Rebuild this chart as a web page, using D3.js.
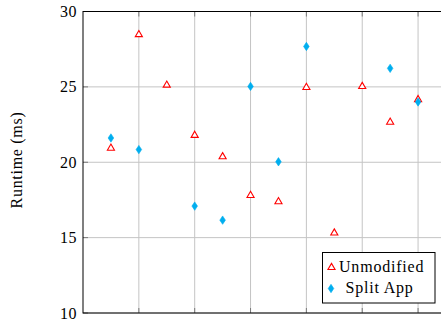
<!DOCTYPE html>
<html>
<head>
<meta charset="utf-8">
<script src="https://cdn.jsdelivr.net/npm/d3@7"></script>
<style>
  body { margin: 0; background: #fff; }
  svg { display: block; }
  text { font-family: "Liberation Serif", "DejaVu Serif", serif; fill: #000; }
</style>
</head>
<body>
<div id="chart"></div>
<script>
// run index along x, runtime in ms
var unmodX = [1, 2, 3, 4, 5, 6, 7, 8, 9, 10, 11, 12];
var unmodY = [20.97, 28.5, 25.15, 21.82, 20.4, 17.83, 17.42, 25.0, 15.34, 25.06, 22.69, 24.19];
var splitX = [1, 2, 4, 5, 6, 7, 8, 11, 12];
var splitY = [21.61, 20.84, 17.09, 16.16, 25.03, 20.03, 27.68, 26.23, 24.0];
var yTicks = [10, 15, 20, 25, 30];
var xTicks = [2, 4, 6, 8, 10, 12];
var seriesNames = ["Unmodified", "Split App"];

var width = 441, height = 322;
var margin = {top: 11.5, right: -5, bottom: 9, left: 83};
var w = width - margin.left - margin.right,
    h = height - margin.top - margin.bottom;

var svg = d3.select("#chart").append("svg")
    .attr("width", width)
    .attr("height", height);

var g = svg.append("g")
    .attr("transform", "translate(" + margin.left + "," + margin.top + ")");

var x = d3.scaleLinear().domain([0, 13]).range([0, w]);
var y = d3.scaleLinear().domain([10, 30]).range([h, 0]);

// grid
g.append("g").selectAll("line")
    .data(xTicks)
  .enter().append("line")
    .attr("x1", function(d) { return x(d); })
    .attr("x2", function(d) { return x(d); })
    .attr("y1", 0).attr("y2", h)
    .attr("stroke", "#c4c4c4").attr("stroke-width", 1);

g.append("g").selectAll("line")
    .data(yTicks)
  .enter().append("line")
    .attr("x1", 0).attr("x2", w)
    .attr("y1", function(d) { return y(d); })
    .attr("y2", function(d) { return y(d); })
    .attr("stroke", "#c4c4c4").attr("stroke-width", 1);

// inner ticks
var tickLen = 5;
var ticks = g.append("g").attr("stroke", "#7a7a7a").attr("stroke-width", 1);
xTicks.forEach(function(d) {
  ticks.append("line").attr("x1", x(d)).attr("x2", x(d)).attr("y1", h).attr("y2", h - tickLen);
  ticks.append("line").attr("x1", x(d)).attr("x2", x(d)).attr("y1", 0).attr("y2", tickLen);
});
yTicks.forEach(function(d) {
  ticks.append("line").attr("x1", 0).attr("x2", tickLen).attr("y1", y(d)).attr("y2", y(d));
  ticks.append("line").attr("x1", w).attr("x2", w - tickLen).attr("y1", y(d)).attr("y2", y(d));
});

// frame
g.append("rect")
    .attr("width", w).attr("height", h)
    .attr("fill", "none").attr("stroke", "#000").attr("stroke-width", 1);

// y tick labels
g.append("g").selectAll("text")
    .data(yTicks)
  .enter().append("text")
    .attr("x", -6)
    .attr("y", function(d) { return y(d); })
    .attr("dy", "0.35em")
    .attr("text-anchor", "end")
    .style("font-size", "16px")
    .style("letter-spacing", "0.5px")
    .text(function(d) { return d; });

// y label
svg.append("text")
    .attr("transform", "translate(21.5,160) rotate(-90)")
    .attr("text-anchor", "middle")
    .style("font-size", "16px")
    .style("letter-spacing", "0.7px")
    .text("Runtime (ms)");

var red = "#ff0000", cyan = "#00aeef";
var tri = d3.symbol().type(d3.symbolTriangle).size(22);

function diamond(cx, cy) {
  return "M" + cx + "," + (cy - 4.2) + "L" + (cx + 2.8) + "," + cy +
         "L" + cx + "," + (cy + 4.2) + "L" + (cx - 2.8) + "," + cy + "Z";
}

// unmodified
g.append("g").selectAll("path")
    .data(unmodX)
  .enter().append("path")
    .attr("d", tri)
    .attr("transform", function(d, i) { return "translate(" + x(d) + "," + (y(unmodY[i]) + 0.5) + ")"; })
    .attr("fill", "#fff")
    .attr("stroke", red)
    .attr("stroke-width", 1.1);

// split app
g.append("g").selectAll("path")
    .data(splitX)
  .enter().append("path")
    .attr("d", function(d, i) { return diamond(x(d), y(splitY[i])); })
    .attr("fill", cyan)
    .attr("stroke", cyan)
    .attr("stroke-width", 0.6);

// legend
var lg = svg.append("g").attr("transform", "translate(322.5,252.5)");
lg.append("rect")
    .attr("width", 112.5).attr("height", 50.5)
    .attr("fill", "#fff").attr("stroke", "#000").attr("stroke-width", 1);
lg.append("path")
    .attr("d", tri)
    .attr("transform", "translate(9,15)")
    .attr("fill", "#fff").attr("stroke", red).attr("stroke-width", 1.1);
lg.append("text")
    .attr("x", 16.5).attr("y", 19.5)
    .style("font-size", "16px")
    .style("letter-spacing", "0.8px")
    .text(seriesNames[0]);
lg.append("path")
    .attr("d", diamond(8.5, 36))
    .attr("fill", cyan).attr("stroke", cyan).attr("stroke-width", 0.6);
lg.append("text")
    .attr("x", 23).attr("y", 40.5)
    .style("font-size", "16px")
    .style("letter-spacing", "0.8px")
    .text(seriesNames[1]);
</script>
</body>
</html>
